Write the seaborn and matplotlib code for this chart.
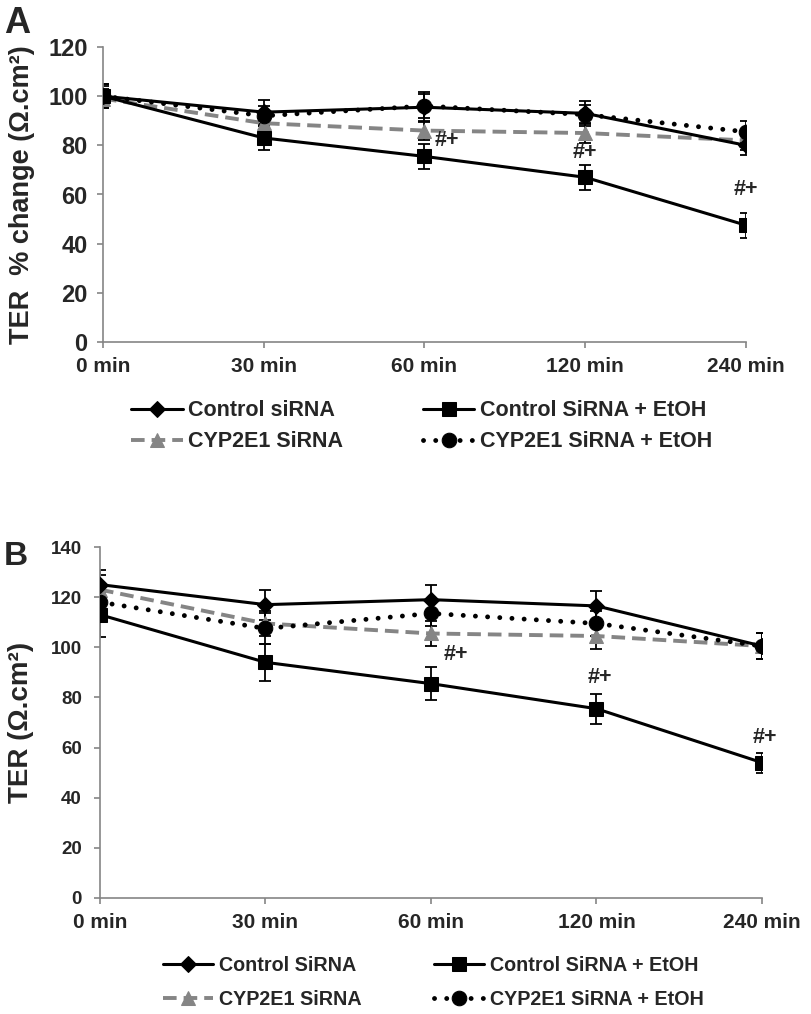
import matplotlib
matplotlib.use("Agg")
import matplotlib.pyplot as plt
import seaborn as sns
import numpy as np

# ---- data ----
time_labels = ["0 min", "30 min", "60 min", "120 min", "240 min"]

series_names_A = ["Control siRNA", "Control SiRNA + EtOH", "CYP2E1 SiRNA", "CYP2E1 SiRNA + EtOH"]
series_names_B = ["Control SiRNA", "Control SiRNA + EtOH", "CYP2E1 SiRNA", "CYP2E1 SiRNA + EtOH"]

a_ctrl = [100, 93.5, 95.5, 93, 80]
a_ctrl_err = [5, 5, 6, 5, 4]
a_ctrl_etoh = [100, 83, 75.5, 67, 47.5]
a_ctrl_etoh_err = [5, 5, 5, 5, 5]
a_cyp = [99, 89, 86, 85, 82]
a_cyp_err = [4, 4, 4, 4, 4]
a_cyp_etoh = [100, 92, 96, 92.5, 85.5]
a_cyp_etoh_err = [4, 4, 5, 4, 4.5]

b_ctrl = [125, 117, 119, 116.5, 100.5]
b_ctrl_err = [6, 6, 6, 6, 5]
b_ctrl_etoh = [113, 94, 85.5, 75.5, 54]
b_ctrl_etoh_err = [9, 7.5, 6.5, 6, 4]
b_cyp = [123, 109.5, 105.5, 104.5, 100.5]
b_cyp_err = [6, 5, 5, 5, 5]
b_cyp_etoh = [118, 107.5, 113.5, 109.5, 100.5]
b_cyp_etoh_err = [6, 6, 5, 5, 5]

annot_text = "#+"
a_annot_x = [2.14, 3.0, 4.0]
a_annot_y = [82, 77, 62]
b_annot_x = [2.15, 3.02, 4.02]
b_annot_y = [97, 88, 64]

# ---- style ----
sns.set_style("white")
plt.rcParams['font.family'] = ['Liberation Sans', 'DejaVu Sans']
plt.rcParams['font.weight'] = 'bold'

fig = plt.figure(figsize=(8.12, 10.14), dpi=100)
axA = fig.add_axes([103/812, 1-342/1014, (746-103)/812, (342-47)/1014])
axB = fig.add_axes([100/812, 1-898/1014, (762-100)/812, (898-547)/1014])

GRAY = "#858585"
styles = {
    "ctrl": dict(color="black", marker="D", markersize=8.5, linestyle="-", linewidth=2.2),
    "ctrl_etoh": dict(color="black", marker="s", markersize=10.5, linestyle="-", linewidth=2.2),
    "cyp": dict(color=GRAY, marker="^", markersize=10.5, linestyle=(0, (3.5, 1.8)), linewidth=2.8),
    "cyp_etoh": dict(color="black", marker="o", markersize=10.5, linestyle=(0, (0.01, 2.5)),
                     linewidth=3.5, dash_capstyle="round"),
}

xpos = np.arange(len(time_labels))


def draw(ax, data, names, ylim, yticks, ylabel, annx, anny, letter, letter_y, letter_fs,
         ytick_fs, ytick_pad, ylab_fs, ylab_x, leg_fs, leg_anchor, hlen, hpad, colsp, labsp):
    order = ["cyp", "cyp_etoh", "ctrl_etoh", "ctrl"]
    handles = {}
    for key in order:
        vals, errs = data[key]
        st = dict(styles[key])
        ax.errorbar(xpos, vals, yerr=errs, fmt="none", ecolor="black", elinewidth=1.3,
                    capsize=4.5, capthick=1.3, zorder=2)
        sns.lineplot(x=xpos, y=vals, ax=ax, markeredgecolor=st["color"], zorder=3,
                     label=names[key], legend=False, **st)
        handles[key] = ax.lines[-1]
    ax.set_xlim(0, 4)
    ax.set_ylim(*ylim)
    ax.set_yticks(yticks)
    ax.set_xticks(xpos)
    ax.set_xticklabels(time_labels)
    for s in ["top", "right"]:
        ax.spines[s].set_visible(False)
    for s in ["left", "bottom"]:
        ax.spines[s].set_color(GRAY)
        ax.spines[s].set_linewidth(1.2)
    ax.tick_params(axis="both", which="major", length=4.5, width=1.2, color=GRAY,
                   direction="out", left=True, bottom=True)
    ax.tick_params(axis="x", pad=6, labelsize=15)
    ax.tick_params(axis="y", pad=ytick_pad, labelsize=ytick_fs)
    for lab in ax.get_xticklabels() + ax.get_yticklabels():
        lab.set_fontweight("bold")
    ax.set_ylabel(ylabel, fontsize=ylab_fs, fontweight="bold")
    ax.yaxis.set_label_coords(ylab_x, 0.5)
    ax.set_xlabel("")
    for x, y in zip(annx, anny):
        ax.text(x, y, annot_text, ha="center", va="center", fontsize=15.5, fontweight="bold")
    fig.text(4/812, 1-letter_y/1014, letter, fontsize=letter_fs, fontweight="bold",
             ha="left", va="baseline")
    hl = [handles["ctrl"], handles["cyp"], handles["ctrl_etoh"], handles["cyp_etoh"]]
    ll = [names["ctrl"], names["cyp"], names["ctrl_etoh"], names["cyp_etoh"]]
    ax.legend(hl, ll, ncol=2, loc="upper left", bbox_to_anchor=leg_anchor, frameon=False,
              prop={"size": leg_fs, "weight": "bold"}, handlelength=hlen, handletextpad=hpad,
              columnspacing=colsp, labelspacing=labsp, borderaxespad=0, borderpad=0)


dataA = {"ctrl": (a_ctrl, a_ctrl_err), "ctrl_etoh": (a_ctrl_etoh, a_ctrl_etoh_err),
         "cyp": (a_cyp, a_cyp_err), "cyp_etoh": (a_cyp_etoh, a_cyp_etoh_err)}
dataB = {"ctrl": (b_ctrl, b_ctrl_err), "ctrl_etoh": (b_ctrl_etoh, b_ctrl_etoh_err),
         "cyp": (b_cyp, b_cyp_err), "cyp_etoh": (b_cyp_etoh, b_cyp_etoh_err)}
namesA = dict(zip(["ctrl", "ctrl_etoh", "cyp", "cyp_etoh"], series_names_A))
namesB = dict(zip(["ctrl", "ctrl_etoh", "cyp", "cyp_etoh"], series_names_B))

draw(axA, dataA, namesA, (0, 120), np.arange(0, 121, 20), "TER  % change (Ω.cm²)",
     a_annot_x, a_annot_y, "A", 33, 26, 17, 6.5, 19.5, -0.105, 15.5,
     ((131-103)/643, -0.197), 2.4, 0.25, 3.7, 0.475)
draw(axB, dataB, namesB, (0, 140), np.arange(0, 141, 20), "TER (Ω.cm²)",
     b_annot_x, b_annot_y, "B", 565, 24, 13.5, 8.5, 20, -0.1, 14.2,
     ((163-100)/662, -0.165), 2.55, 0.3, 3.65, 0.75)

fig.savefig("out.png", dpi=100)
